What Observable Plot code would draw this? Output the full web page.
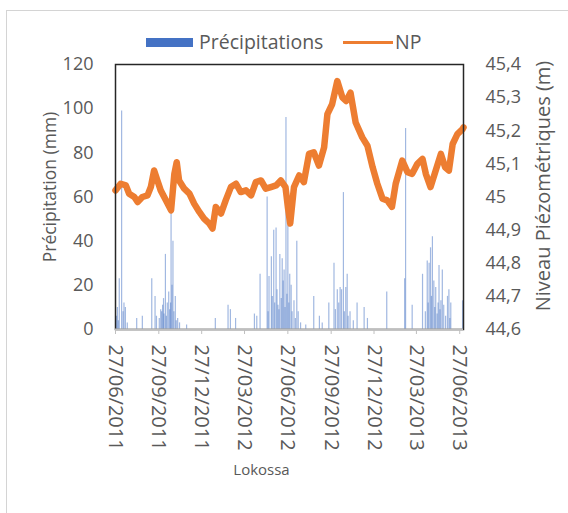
<!DOCTYPE html>
<html><head><meta charset="utf-8">
<script src="https://cdn.jsdelivr.net/npm/d3@7"></script>
<script src="https://cdn.jsdelivr.net/npm/@observablehq/plot@0.6"></script>
<style>
html,body{margin:0;padding:0;background:#fff;overflow:hidden}
#wrap{position:relative;width:568px;height:513px;font-family:"Open Sans",sans-serif;color:#595959}
#border{position:absolute;left:6px;top:10px;width:800px;height:800px;border-left:1px solid #d4d4d4;border-top:1px solid #d4d4d4}
.lg{position:absolute;font-size:19.5px;line-height:19px;top:32px;white-space:nowrap}
#sw1{position:absolute;left:146px;top:38px;width:47px;height:9px;background:#4472c4}
#sw2{position:absolute;left:343px;top:41px;width:50px;height:3px;background:#ed7d31}
#chart{position:absolute;left:0;top:0}
</style></head>
<body>
<div id="wrap">
  <div id="border"></div>
  <div id="chart"></div>
  <div id="sw1"></div><div class="lg" style="left:199px">Précipitations</div>
  <div id="sw2"></div><div class="lg" style="left:395px">NP</div>
</div>
<script>
// Précipitations (mm)
const precipDates = [
 "2011-06-29","2011-07-01","2011-07-03","2011-07-05","2011-07-10","2011-07-13","2011-07-15","2011-07-18","2011-07-22",
 "2011-08-11","2011-08-23","2011-09-12","2011-09-19","2011-09-22","2011-09-28","2011-10-01","2011-10-03","2011-10-05",
 "2011-10-07","2011-10-08","2011-10-11","2011-10-13","2011-10-15","2011-10-18","2011-10-20","2011-10-22","2011-10-23",
 "2011-10-25","2011-10-27","2011-10-29","2011-11-01","2011-11-03","2011-11-06","2011-11-10","2011-11-25",
 "2012-01-25","2012-02-21","2012-02-26","2012-03-08","2012-04-17","2012-04-22","2012-04-29","2012-05-14","2012-05-16",
 "2012-05-18","2012-05-23","2012-05-25","2012-05-28","2012-05-30","2012-06-02","2012-06-04","2012-06-06","2012-06-08",
 "2012-06-10","2012-06-13","2012-06-15","2012-06-17","2012-06-19","2012-06-21","2012-06-23","2012-06-25","2012-06-27",
 "2012-06-29","2012-07-01","2012-07-04","2012-07-06","2012-07-10","2012-07-13","2012-07-16","2012-07-19","2012-07-24",
 "2012-08-04","2012-08-21","2012-09-02","2012-09-08","2012-09-22","2012-10-03","2012-10-06","2012-10-10","2012-10-13",
 "2012-10-16","2012-10-19","2012-10-23","2012-10-25","2012-10-28","2012-10-31","2012-11-02","2012-11-06","2012-11-13",
 "2012-11-21","2012-12-06","2012-12-13","2013-01-23","2013-03-02","2013-03-04","2013-03-18","2013-04-09","2013-04-15",
 "2013-04-19","2013-04-21","2013-04-23","2013-04-26","2013-04-28","2013-04-30","2013-05-03","2013-05-05","2013-05-07",
 "2013-05-10","2013-05-12","2013-05-14","2013-05-16","2013-05-18","2013-05-21","2013-05-24","2013-05-28","2013-06-01",
 "2013-06-04","2013-06-06","2013-06-08","2013-07-03"
];
const precipMm = [
 6,10,4,23,99,8,12,10,3,
 5,6,23,15,6,5,9,8,11,
 14,7,34,6,12,17,9,12,60,
 20,40,8,15,4,5,3,2,
 5,11,9,5,7,6,25,60,8,
 24,33,15,45,12,46,18,11,9,
 34,14,32,22,27,10,96,16,47,
 12,25,20,8,13,5,40,8,3,
 2,15,6,3,12,30,9,18,12,
 19,18,62,8,19,25,6,8,4,
 12,10,5,17,23,91,11,25,8,
 31,12,30,37,15,42,22,10,19,
 7,12,29,9,13,27,11,6,15,
 18,5,12,13
];
// Niveau piézométrique NP (m)
const npDates = [
 "2011-06-27","2011-07-08","2011-07-19","2011-07-26","2011-08-06","2011-08-13","2011-08-23","2011-09-03","2011-09-10",
 "2011-09-17","2011-09-24","2011-10-01","2011-10-12","2011-10-23","2011-10-30","2011-11-04","2011-11-09","2011-11-20",
 "2011-12-01","2011-12-11","2011-12-22","2012-01-01","2012-01-12","2012-01-19","2012-01-26","2012-02-06","2012-02-16",
 "2012-02-27","2012-03-09","2012-03-19","2012-03-30","2012-04-10","2012-04-20","2012-05-01","2012-05-11","2012-05-22",
 "2012-06-02","2012-06-12","2012-06-22","2012-06-27","2012-07-02","2012-07-10","2012-07-21","2012-07-31","2012-08-11",
 "2012-08-21","2012-09-01","2012-09-12","2012-09-19","2012-09-29","2012-10-10","2012-10-21","2012-10-29","2012-11-07",
 "2012-11-18","2012-12-02","2012-12-13","2012-12-24","2013-01-03","2013-01-14","2013-01-24","2013-02-03","2013-02-11",
 "2013-02-25","2013-03-08","2013-03-18","2013-03-29","2013-04-09","2013-04-16","2013-04-26","2013-05-07","2013-05-18",
 "2013-05-27","2013-06-04","2013-06-12","2013-06-22","2013-07-03","2013-07-05"
];
const npValues = [
 45.02,45.04,45.035,45.01,45.0,44.985,45.0,45.005,45.03,
 45.08,45.05,45.02,44.99,44.96,45.07,45.105,45.05,45.025,
 45.01,44.98,44.955,44.935,44.92,44.905,44.97,44.95,44.99,
 45.03,45.04,45.015,45.02,45.005,45.045,45.05,45.025,45.03,
 45.035,45.05,45.03,44.97,44.92,45.03,45.065,45.045,45.13,
 45.135,45.095,45.15,45.25,45.28,45.35,45.30,45.29,45.315,
 45.225,45.18,45.155,45.09,45.04,44.995,44.99,44.97,45.04,
 45.11,45.075,45.07,45.10,45.115,45.07,45.03,45.08,45.13,
 45.09,45.08,45.16,45.19,45.205,45.21
];
const xTickDates = ["2011-06-27","2011-09-27","2011-12-27","2012-03-27","2012-06-27","2012-09-27","2012-12-27","2013-03-27","2013-06-27"];
const leftTicks = [0,20,40,60,80,100,120];
const rightTicks = [44.6,44.7,44.8,44.9,45.0,45.1,45.2,45.3,45.4];
const xDomain = ["2011-06-27","2013-07-05"];

const parse = d3.utcParse("%Y-%m-%d");
const precip = precipDates.map((d,i)=>({date:parse(d), mm:precipMm[i]}));
const np = npDates.map((d,i)=>({date:parse(d), np:npValues[i]}));
// secondary axis mapping NP (m) -> precipitation scale
const toMm = d3.scaleLinear().domain([44.6,45.4]).range([0,120]);
const fmtNP = v => String(Math.round(toMm.invert(v)*10)/10).replace(".", ",");
const fmtDate = d3.utcFormat("%d/%m/%Y");

const chart = Plot.plot({
  width:568, height:513,
  marginLeft:115, marginRight:105, marginTop:64, marginBottom:184,
  style:{fontFamily:"'Open Sans', sans-serif", fontSize:"18px", color:"#595959", background:"transparent", overflow:"visible"},
  x:{type:"utc", domain:xDomain.map(parse)},
  y:{domain:[0,120]},
  marks:[
    Plot.ruleX(precip, {x:"date", y1:0, y2:"mm", stroke:"#4472c4", strokeWidth:1.2, strokeOpacity:0.5}),
    Plot.line(np, {x:"date", y:d=>toMm(d.np), stroke:"#ed7d31", strokeWidth:6.5, strokeLinejoin:"round", strokeLinecap:"round"}),
    Plot.frame({stroke:"#262626", strokeWidth:1.5}),
    Plot.ruleY([0], {stroke:"#bfbfbf", strokeWidth:2}),
    Plot.axisY({ticks:leftTicks, tickSize:0, tickPadding:22, label:null, fontSize:18}),
    Plot.axisY({anchor:"right", ticks:rightTicks.map(toMm), tickFormat:fmtNP, tickSize:0, tickPadding:22, label:null, fontSize:18}),
    Plot.axisX({ticks:xTickDates.map(parse), tickFormat:fmtDate, tickRotate:90, tickSize:5, tickPadding:10, stroke:"#bfbfbf", label:null, fontSize:20}),
    Plot.text(["Précipitation (mm)"], {frameAnchor:"left", textAnchor:"middle", rotate:-90, dx:-65, dy:-10, fontSize:17.5, fill:"#595959"}),
    Plot.text(["Niveau Piézométriques (m)"], {frameAnchor:"right", textAnchor:"middle", rotate:-90, dx:80, dy:-11, fontSize:20, fill:"#595959"}),
    Plot.text(["Lokossa"], {frameAnchor:"bottom", dx:-28, dy:145, fontSize:15, fill:"#595959"})
  ]
});
document.getElementById("chart").appendChild(chart);
</script>
</body></html>
